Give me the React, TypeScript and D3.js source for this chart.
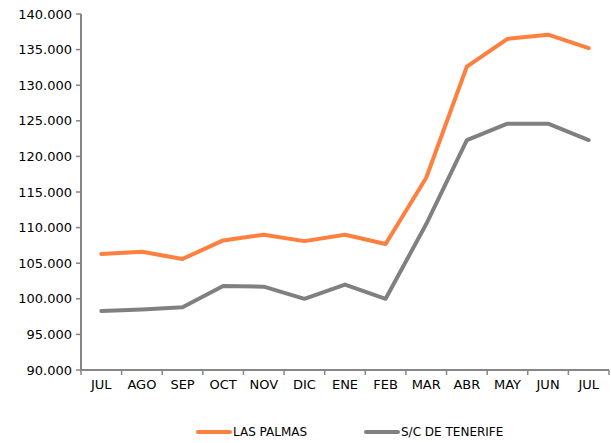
import React from 'react';
import * as d3 from 'd3';

const months = ['JUL', 'AGO', 'SEP', 'OCT', 'NOV', 'DIC', 'ENE', 'FEB', 'MAR', 'ABR', 'MAY', 'JUN', 'JUL'];
const lasPalmas = [106.3, 106.6, 105.6, 108.2, 109.0, 108.1, 109.0, 107.7, 117.0, 132.6, 136.5, 137.1, 135.2];
const tenerife = [98.3, 98.5, 98.8, 101.8, 101.7, 100.0, 102.0, 100.0, 110.5, 122.3, 124.6, 124.6, 122.3];
const yTicks = [90, 95, 100, 105, 110, 115, 120, 125, 130, 135, 140];

const series = [
  { name: 'LAS PALMAS', values: lasPalmas, color: '#FF7F3F' },
  { name: 'S/C DE TENERIFE', values: tenerife, color: '#808080' },
];

const width = 611;
const height = 443;
const left = 81;
const right = 609;
const top = 14;
const bottom = 370;
const font = "Tahoma, 'DejaVu Sans', Verdana, sans-serif";

const fmt = (v: number) => v.toFixed(3);

export default function App() {
  const x = d3.scaleBand<number>().domain(months.map((_, i) => i)).range([left, right]);
  const y = d3.scaleLinear().domain([90, 140]).range([bottom, top]);
  const line = d3.line<number>()
    .x((_, i) => (x(i) as number) + x.bandwidth() / 2)
    .y(d => y(d));

  const boundaries = months.map((_, i) => x(i) as number).concat([right]);

  return (
    <svg width={width} height={height} style={{ position: 'absolute', left: 0, top: 0, background: '#fff' }}
      fontFamily={font}>
      {/* y axis */}
      <line x1={left} x2={left} y1={top} y2={bottom} stroke="#868686" strokeWidth={2} />
      {yTicks.map(t => (
        <g key={t}>
          <line x1={left - 5} x2={left} y1={y(t)} y2={y(t)} stroke="#868686" strokeWidth={1.5} />
          <text x={left - 9} y={y(t)} dy="0.35em" textAnchor="end" fontSize={13} fill="#000">{fmt(t)}</text>
        </g>
      ))}
      {/* x axis */}
      <line x1={left} x2={right} y1={bottom} y2={bottom} stroke="#868686" strokeWidth={2} />
      {boundaries.map((b, i) => (
        <line key={i} x1={b} x2={b} y1={bottom} y2={bottom + 5} stroke="#868686" strokeWidth={1.5} />
      ))}
      {months.map((m, i) => (
        <text key={i} x={(x(i) as number) + x.bandwidth() / 2} y={bottom + 19} textAnchor="middle"
          fontSize={13} fill="#000">{m}</text>
      ))}
      {/* lines */}
      {series.map(s => (
        <path key={s.name} d={line(s.values) ?? ''} fill="none" stroke={s.color} strokeWidth={4}
          strokeLinejoin="round" strokeLinecap="round" />
      ))}
      {/* legend */}
      {series.map((s, i) => {
        const lx = i === 0 ? 198 : 366;
        return (
          <g key={s.name}>
            <line x1={lx} x2={lx + 32} y1={432} y2={432} stroke={s.color} strokeWidth={4} strokeLinecap="round" />
            <text x={lx + 35} y={432} dy="0.35em" fontSize={12} fill="#000">{s.name}</text>
          </g>
        );
      })}
    </svg>
  );
}
